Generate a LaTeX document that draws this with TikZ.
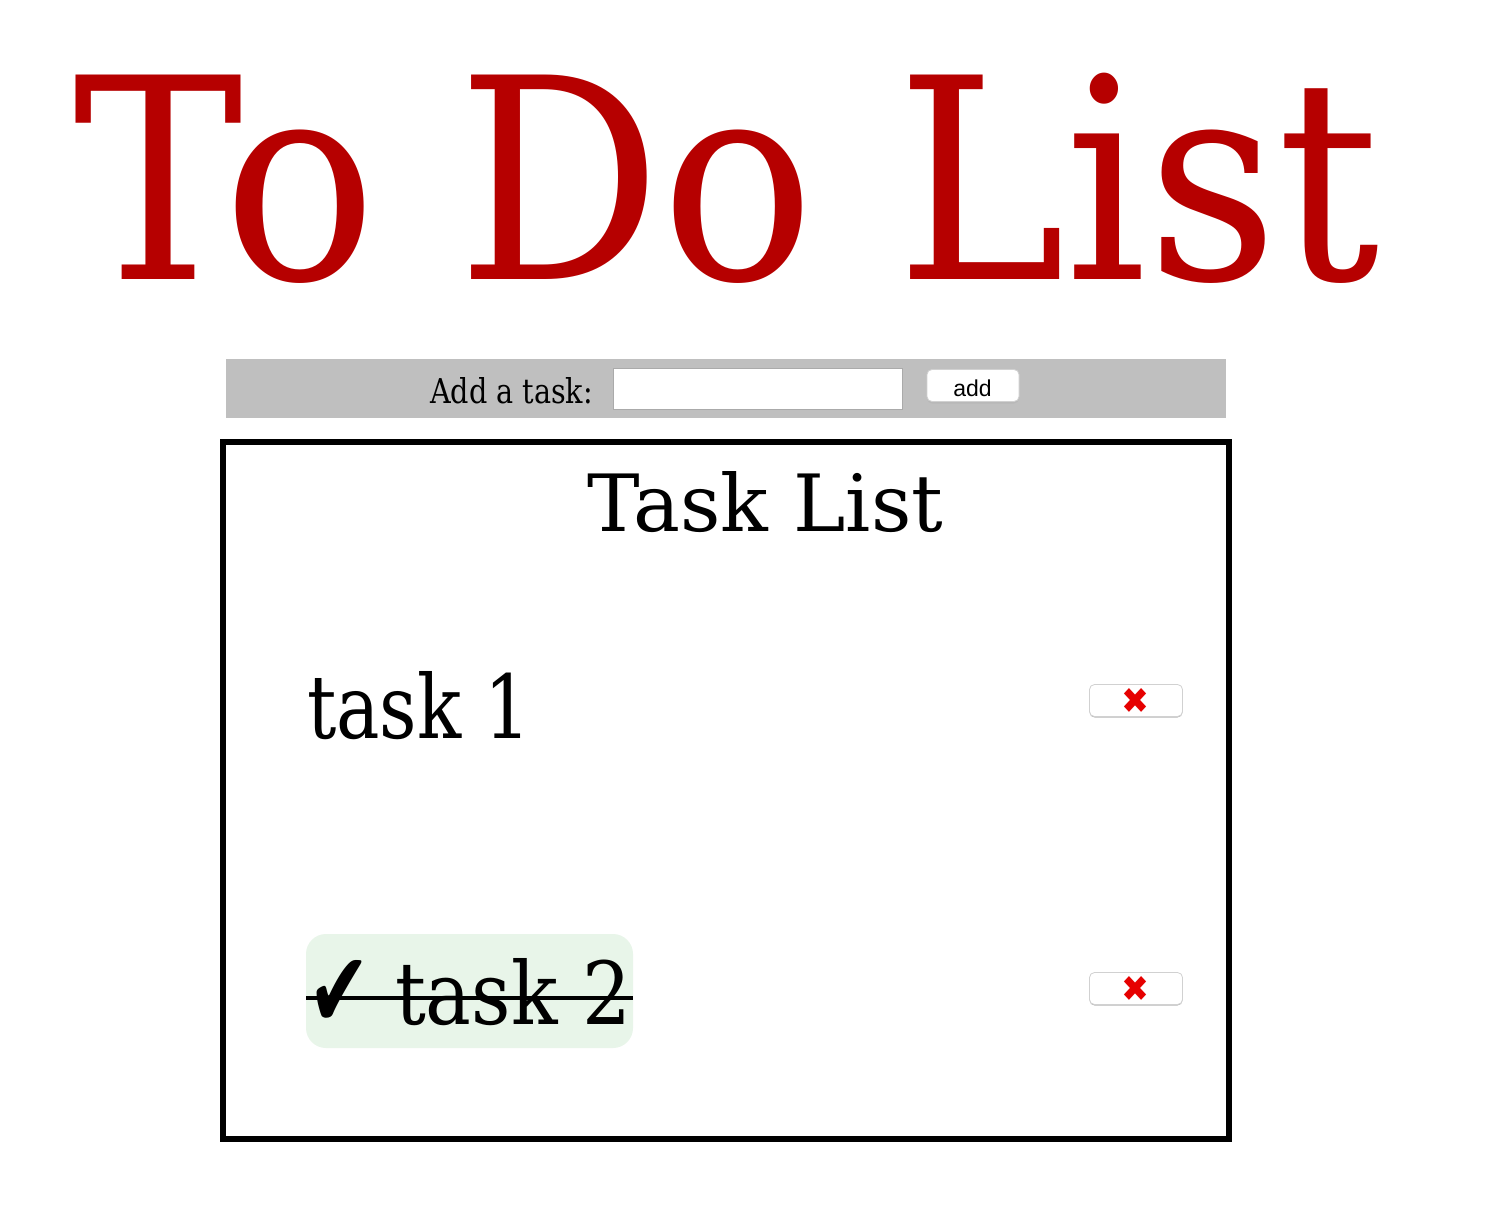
\documentclass[tikz,border=0pt]{standalone}
\usepackage{graphicx}
\usepackage{fontspec}
\setmainfont{DejaVu Serif}
\newfontfamily\btnfont{Liberation Sans}
\newfontfamily\symfont{DejaVu Sans}
\definecolor{titlered}{RGB}{182,0,0}
\definecolor{bargray}{RGB}{191,191,191}
\definecolor{inputgray}{RGB}{170,170,170}
\definecolor{donegreen}{RGB}{232,245,233}
\definecolor{xred}{RGB}{230,0,0}
\tikzset{
  plain/.style={inner sep=0pt, outer sep=0pt},
  btnshadow/.style={plain, fill=black!28, rounded corners=5pt, anchor=north west},
  btnface/.style={plain, fill=white, draw=black!18, line width=0.8pt, rounded corners=5pt, anchor=north west},
  delbtn/.style={minimum width=93pt, minimum height=32pt},
  basetext/.style={plain, anchor=base west},
}
\begin{document}
\begin{tikzpicture}[x=1pt,y=-1pt, every node/.style={inner sep=0pt, outer sep=0pt}]
\useasboundingbox (0,0) rectangle (1496,1222);
\fill[white] (0,0) rectangle (1496,1222);

% title
\node[basetext, text=titlered] (title) at (73,280) {\resizebox{1306pt}{206pt}{To Do List}};

% input bar
\node[plain, fill=bargray, minimum width=1000pt, minimum height=59pt, anchor=north west] (bar) at (226,359) {};
\node[basetext] (addlabel) at (430,403) {\resizebox{163pt}{26pt}{Add a task:}};
\node[plain, fill=white, draw=inputgray, line width=1.2pt, minimum width=289pt, minimum height=41pt, anchor=north west] (input) at (613.5,368.5) {};
\node[btnshadow, minimum width=92pt, minimum height=33pt] (addshadow) at (927,370.5) {};
\node[btnface, minimum width=92pt, minimum height=32pt] (addbtn) at (927,369.5) {};
\node[plain, anchor=base, font=\btnfont\fontsize{23}{23}\selectfont] (addtext) at (972.5,396) {add};

% task box
\node[plain, draw=black, line width=6pt, minimum width=1005.5pt, minimum height=697.5pt, anchor=north west] (taskbox) at (223,441.5) {};
\node[basetext] (listtitle) at (587,531) {\resizebox{356pt}{60pt}{Task List}};

% task 1
\node[basetext] (task1) at (307,738) {\resizebox{224pt}{67pt}{task 1}};
\node[btnshadow, delbtn] (del1shadow) at (1089.5,685.5) {};
\node[btnface, delbtn] (del1) at (1089.5,684.5) {};
\node[plain] (x1) at (1135.5,701) {\resizebox{28pt}{25pt}{\symfont\color{xred}✖}};

% task 2 (done)
\node[plain, fill=donegreen, rounded corners=20pt, minimum width=327pt, minimum height=114pt, anchor=north west] (hl) at (306,934) {};
\node[plain, anchor=south west] (check) at (308,1027) {\resizebox*{62pt}{67pt}{\symfont ✔}};
\node[basetext] (task2) at (395,1024) {\resizebox{236pt}{66pt}{task 2}};
\coordinate (s1) at (306,998);
\coordinate (s2) at (633,998);
\draw[line width=3.5pt] (s1) -- (s2);
\node[btnshadow, delbtn] (del2shadow) at (1089.5,973.5) {};
\node[btnface, delbtn] (del2) at (1089.5,972.5) {};
\node[plain] (x2) at (1135.5,989) {\resizebox{28pt}{25pt}{\symfont\color{xred}✖}};
\end{tikzpicture}
\end{document}
